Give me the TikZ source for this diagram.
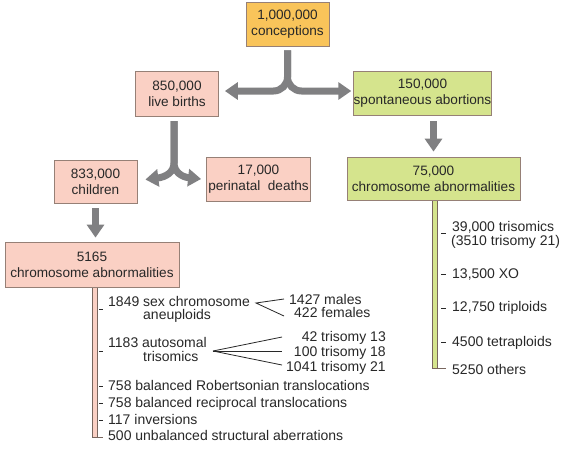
\documentclass[tikz,border=0pt]{standalone}
\usepackage{fontspec}
\setmainfont{Liberation Sans}
\usetikzlibrary{arrows.meta}
\definecolor{orangefill}{RGB}{249,196,90}
\definecolor{pinkfill}{RGB}{250,208,196}
\definecolor{greenfill}{RGB}{213,228,141}
\definecolor{boxline}{RGB}{150,128,118}
\definecolor{arrowgray}{RGB}{128,128,130}
\definecolor{txt}{RGB}{40,40,40}
\begin{document}
\begin{tikzpicture}[x=1pt,y=-1pt,
  box/.style={draw=boxline, line width=0.8pt, align=center, inner sep=0pt, text=txt,
    font=\fontsize{13.6}{16}\selectfont},
  bigarrow/.style={draw=arrowgray, line width=7pt, -{Triangle[width=17pt,length=13pt]}},
  item/.style={anchor=base west, inner sep=0pt, text=txt, font=\fontsize{14}{16}\selectfont},
  itemr/.style={item, anchor=base east},
  thinline/.style={draw=txt, line width=0.8pt},
  barline/.style={draw=boxline!80!black, line width=0.8pt}]
\useasboundingbox[fill=white] (0,0) rectangle (567,459);

% vertical bars
\filldraw[fill=pinkfill, barline] (92,287) rectangle (97,437);
\draw[barline] (97,437) -- (103,437);
\filldraw[fill=greenfill, barline] (432,200) rectangle (437,368);
\draw[barline] (437,368) -- (446,368);

% ticks
\foreach \y in {309,351,386,403,420} \draw[thinline] (99,\y) -- (103,\y);
\foreach \y in {233,274,308,342} \draw[thinline] (441,\y) -- (446,\y);

% boxes
\node[box, fill=orangefill, minimum width=83pt, minimum height=44pt] (conc) at (287.5,24) {1,000,000\\conceptions};
\node[box, fill=pinkfill, minimum width=83pt, minimum height=45pt] (live) at (177,93.5) {850,000\\live births};
\node[box, fill=greenfill, minimum width=129pt, minimum height=44pt] (spont) at (422.5,93) {150,000\\spontaneous abortions};
\node[box, fill=pinkfill, minimum width=83pt, minimum height=43pt] (child) at (95.5,181.5) {833,000\\children};
\node[box, fill=pinkfill, minimum width=104pt, minimum height=44pt] (peri) at (258.5,179) {17,000\\perinatal\hspace{0.55em}deaths};
\node[box, fill=pinkfill, minimum width=174pt, minimum height=45pt] (abnL) at (92,264.5) {5165\\chromosome abnormalities};
\node[box, fill=greenfill, minimum width=173pt, minimum height=43pt] (abnR) at (433.5,178.5) {75,000\\chromosome abnormalities};

% big arrows
\draw[bigarrow, rounded corners=14pt] ([yshift=-4pt]conc.south) |- ([xshift=6pt,yshift=2.5pt]live.east);
\draw[bigarrow, rounded corners=14pt] ([yshift=-4pt]conc.south) |- ([xshift=-2pt,yshift=2pt]spont.west);
\coordinate (s2top) at (174,121);
\coordinate (s2) at (174,163);
\draw[bigarrow] (s2top) -- (s2) .. controls (174,172) and (166,177) .. ([xshift=8pt,yshift=2pt]child.east);
\draw[bigarrow] (s2top) -- (s2) .. controls (174,172) and (182,177) .. ([xshift=-5pt]peri.west);
\draw[bigarrow, shorten <=5pt, shorten >=4pt] (child.south) -- (child.south |- abnL.north);
\draw[bigarrow, shorten <=6pt, shorten >=5pt] (abnR.north |- spont.south) -- (abnR.north);

% left list
\node[item] (sexA) at (108,306.5) {1849 sex chromosome};
\node[item] (sexB) at (143,319.5) {aneuploids};
\node[item] (males) at (289,304.5) {1427 males};
\node[item] (females) at (294,317.5) {422 females};
\node[item] (autoA) at (108,347.5) {1183 autosomal};
\node[item] (autoB) at (143,361.5) {trisomics};
\node[itemr] (t13) at (386,341.5) {42 trisomy 13};
\node[itemr] (t18) at (386,356.5) {100 trisomy 18};
\node[itemr] (t21) at (386,371.5) {1041 trisomy 21};
\node[item] (rob) at (108,390.5) {758 balanced Robertsonian translocations};
\node[item] (rec) at (108,407.5) {758 balanced reciprocal translocations};
\node[item] (inv) at (108,424.5) {117 inversions};
\node[item] (unb) at (108,440.5) {500 unbalanced structural aberrations};

\coordinate (sv) at (256,303);
\coordinate (svm) at (284,299);
\coordinate (svf) at (284,316);
\draw[thinline] (svm) -- (sv) -- (svf);
\coordinate (tv) at (213,351);
\coordinate (tv13) at (282,337);
\coordinate (tv18) at (282,351);
\coordinate (tv21) at (282,365);
\draw[thinline] (tv) -- (tv13);
\draw[thinline] (tv) -- (tv18);
\draw[thinline] (tv) -- (tv21);

% right list
\node[item] (tri) at (452,231.5) {39,000 trisomics};
\node[item] (tri21) at (451,245.5) {(3510 trisomy 21)};
\node[item] (xo) at (452,278.5) {13,500 XO};
\node[item] (trip) at (452,311.5) {12,750 triploids};
\node[item] (tetra) at (452,346.5) {4500 tetraploids};
\node[item] (oth) at (452,374.5) {5250 others};
\end{tikzpicture}
\end{document}
